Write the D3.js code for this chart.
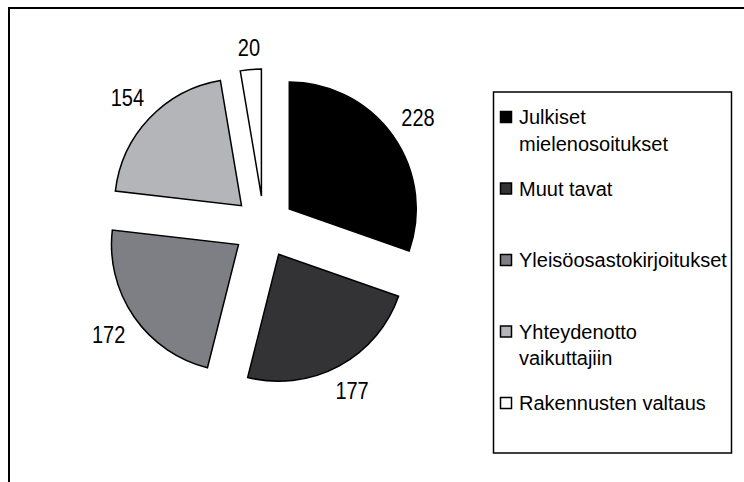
<!DOCTYPE html>
<html>
<head>
<meta charset="utf-8">
<script src="https://cdn.jsdelivr.net/npm/d3@7/dist/d3.min.js"></script>
<style>
    body { margin: 0; background: #fff; }
    text { font-family: "Liberation Sans", Arial, sans-serif; fill: #000; }
</style>
</head>
<body>
<div id="main"></div>
<script>
// data
const categories = ['Julkiset mielenosoitukset', 'Muut tavat', 'Yleisöosastokirjoitukset', 'Yhteydenotto vaikuttajiin', 'Rakennusten valtaus'];
const legendLines = [['Julkiset', 'mielenosoitukset'], ['Muut tavat'], ['Yleisöosastokirjoitukset'], ['Yhteydenotto', 'vaikuttajiin'], ['Rakennusten valtaus']];
const values = [228, 177, 172, 154, 20];
const colours = ['#000000', '#333335', '#7e7f85', '#b3b5b8', '#ffffff'];

const width = 744;
const height = 482;
const cx = 264, cy = 227;
const radius = 127;
const explode = 31;
const labelGap = 12;

const svg = d3.select('#main').append('svg')
    .attr('width', width)
    .attr('height', height);

// outer chart frame (runs off the right and bottom edge)
svg.append('rect')
    .attr('x', 9)
    .attr('y', 8)
    .attr('width', width + 20)
    .attr('height', height + 20)
    .attr('fill', 'none')
    .attr('stroke', '#000')
    .attr('stroke-width', 2);

const pie = d3.pie().sort(null).value((d) => d);
const arcs = pie(values);
const arc = d3.arc().innerRadius(0).outerRadius(radius);

const dir = (d) => {
    const a = (d.startAngle + d.endAngle) / 2;
    return [Math.sin(a), -Math.cos(a)];
};

const chart = svg.append('g')
    .attr('transform', `translate(${cx}, ${cy})`);

const slices = chart.selectAll('g.slice')
    .data(arcs)
    .enter()
    .append('g')
    .attr('class', 'slice')
    .attr('transform', (d) => {
        const [dx, dy] = dir(d);
        return `translate(${dx * explode}, ${dy * explode})`;
    });

slices.append('path')
    .attr('d', arc)
    .attr('fill', (d, i) => colours[i])
    .attr('stroke', '#000')
    .attr('stroke-width', 1.5)
    .attr('stroke-linejoin', 'miter');

// labels sit just outside the rim, pushed out by half their box size
const labels = slices.append('text')
    .attr('text-anchor', 'middle')
    .attr('dy', '0.36em')
    .attr('font-size', '20px')
    .text((d) => d.data);

labels.attr('transform', function(d) {
    const [dx, dy] = dir(d);
    const box = this.getBBox();
    const r = radius + labelGap + Math.abs(dx) * box.width / 2 + Math.abs(dy) * 9;
    return `translate(${dx * r}, ${dy * r}) scale(1, 1.15)`;
});

// legend
const legendX = 493.5, legendY = 92, legendW = 238, legendH = 361;
const legend = svg.append('g');
legend.append('rect')
    .attr('x', legendX)
    .attr('y', legendY)
    .attr('width', legendW)
    .attr('height', legendH)
    .attr('fill', '#fff')
    .attr('stroke', '#000')
    .attr('stroke-width', 1.5);

const itemY = d3.scaleLinear()
    .domain([0, categories.length - 1])
    .range([124, 410]);

const items = legend.selectAll('g.item')
    .data(categories)
    .enter()
    .append('g')
    .attr('class', 'item')
    .attr('transform', (d, i) => `translate(${legendX}, ${itemY(i)})`);

items.append('rect')
    .attr('x', 7)
    .attr('y', -12.5)
    .attr('width', 11)
    .attr('height', 11)
    .attr('fill', (d, i) => colours[i])
    .attr('stroke', '#000')
    .attr('stroke-width', 1.5);

items.append('text')
    .attr('x', 25.5)
    .attr('font-size', '20px')
    .selectAll('tspan')
    .data((d, i) => legendLines[i])
    .enter()
    .append('tspan')
    .attr('x', 25.5)
    .attr('y', (d, j) => j * 26.5)
    .text((d) => d);
</script>
</body>
</html>
